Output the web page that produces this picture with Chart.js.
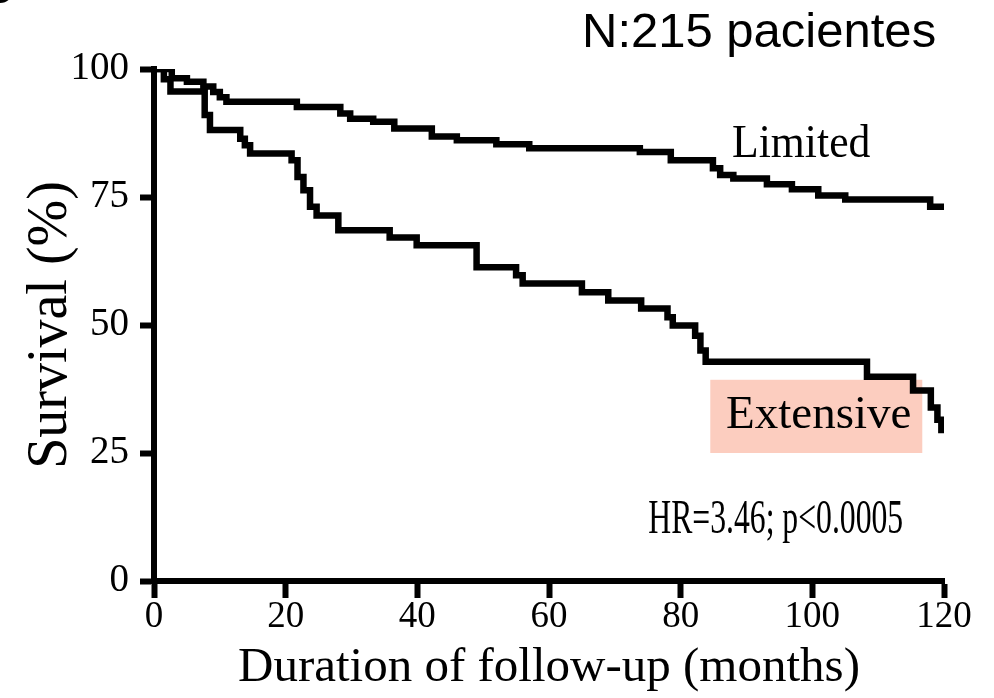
<!DOCTYPE html>
<html>
<head>
<meta charset="utf-8">
<script src="https://cdn.jsdelivr.net/npm/chart.js@4.4.1/dist/chart.umd.min.js"></script>
<style>
  html, body { margin: 0; padding: 0; background: #fff; }
  canvas { display: block; }
</style>
</head>
<body>
<canvas id="kmChart" width="994" height="698"></canvas>
<script>
// Kaplan-Meier curves (months, survival %)
// each point = time of the drop and the survival just after it
const xTicks = [0, 20, 40, 60, 80, 100, 120]
const yTicks = [0, 25, 50, 75, 100]

const limitedMonths = [0, 2.7, 5, 7.5, 9, 10, 11, 21.7, 28.3, 29.8, 33.3, 36.5, 42.2, 46, 52, 57, 73.8, 78.5, 84.9, 86, 88, 93.1, 96.9, 100.9, 105, 117.9, 120]
const limitedSurvival = [100, 98.2, 97.5, 96.6, 95.5, 94.5, 93.6, 92.6, 91.3, 90.3, 89.7, 88.4, 86.8, 86.1, 85.3, 84.5, 83.8, 82.2, 80.6, 79.3, 78.6, 77.5, 76.5, 75.3, 74.5, 73.1, 73.1]

const extensiveMonths = [0, 1.5, 2.5, 7.7, 8.5, 13.1, 13.8, 14.6, 20.9, 21.8, 22.7, 23.7, 24.7, 28, 35.8, 39.9, 49, 55, 56, 65, 69, 74, 78, 78.8, 82.2, 83, 83.8, 108.3, 115.3, 118, 119, 119.6, 120]
const extensiveSurvival = [100, 98, 95.6, 91, 88.1, 86.4, 85.1, 83.5, 82.2, 78.9, 76.3, 73.1, 71.4, 68.5, 67.1, 65.6, 61.3, 59.7, 58.1, 56.4, 54.8, 53.2, 51.5, 49.9, 47.9, 45, 42.8, 39.9, 37.2, 33.9, 31.5, 29.5, 29.5]

const toPoints = (xs, ys) => xs.map((x, i) => ({ x: x, y: ys[i] }))

const serif = "'Liberation Serif', 'Times New Roman', serif"
const sans = "'Liberation Sans', Arial, sans-serif"

// draw text squeezed horizontally (the figure's labels are condensed)
function squeezedText(ctx, text, x, y, sx, align) {
  ctx.save()
  ctx.translate(x, y)
  ctx.scale(sx, 1)
  ctx.textAlign = align
  ctx.fillText(text, 0, 0)
  ctx.restore()
}

// labels drawn on top of the plot
const annotations = {
  id: "annotations",
  beforeDatasetsDraw(chart) {
    const { ctx, scales } = chart
    const x = scales.x, y = scales.y
    // salmon box behind "Extensive"
    const left = x.getPixelForValue(84.5)
    const right = x.getPixelForValue(116.7)
    const top = y.getPixelForValue(39.3)
    const bottom = y.getPixelForValue(25)
    ctx.save()
    ctx.fillStyle = "#fccdbf"
    ctx.fillRect(left, top, right - left, bottom - top)
    ctx.restore()
  },
  afterDraw(chart) {
    const { ctx, scales } = chart
    const x = scales.x, y = scales.y
    ctx.save()
    ctx.fillStyle = "#000"
    ctx.textBaseline = "alphabetic"

    ctx.font = "47px " + serif
    squeezedText(ctx, "Limited", x.getPixelForValue(87.8), y.getPixelForValue(82.8), 0.93, "left")
    squeezedText(ctx, "Extensive", x.getPixelForValue(86.9), y.getPixelForValue(29.9), 1, "left")
    ctx.font = "48px " + serif
    squeezedText(ctx, "HR=3.46; p<0.0005", x.getPixelForValue(113.8), y.getPixelForValue(9.4), 0.66, "right")

    ctx.font = "49px " + sans
    ctx.textAlign = "left"
    ctx.fillText("N:215 pacientes", 582, 47)
    // leftover of a cut-off panel letter in the corner
    ctx.fillText("g", -13, -7)
    ctx.restore()
  },
}

const ctx = document.getElementById("kmChart")
new Chart(ctx, {
  type: "line",
  data: {
    datasets: [
      {
        label: "Limited",
        data: toPoints(limitedMonths, limitedSurvival),
        borderColor: "#000",
        borderWidth: 6.5,
        stepped: "before",
        pointRadius: 0,
        fill: false,
      },
      {
        label: "Extensive",
        data: toPoints(extensiveMonths, extensiveSurvival),
        borderColor: "#000",
        borderWidth: 6.5,
        stepped: "before",
        pointRadius: 0,
        fill: false,
      },
    ],
  },
  options: {
    responsive: false,
    animation: false,
    layout: {
      padding: { top: 69, right: 50, left: 0, bottom: 0 },
    },
    plugins: {
      legend: { display: false },
      tooltip: { enabled: false },
    },
    scales: {
      x: {
        type: "linear",
        min: 0,
        max: 120,
        afterBuildTicks: (axis) => {
          axis.ticks = xTicks.map((v) => ({ value: v }))
        },
        afterFit: (axis) => {
          axis.height = 117
        },
        border: { display: true, color: "#000", width: 6 },
        grid: {
          drawOnChartArea: false,
          drawTicks: true,
          tickLength: 17,
          tickWidth: 6,
          tickColor: "#000",
        },
        ticks: {
          color: "#000",
          padding: -3,
          maxRotation: 0,
          font: { family: serif, size: 37 },
        },
        title: {
          display: true,
          text: "Duration of follow-up (months)",
          color: "#000",
          font: { family: serif, size: 49 },
          padding: { top: 0, bottom: 0 },
        },
      },
      y: {
        min: 0,
        max: 100,
        afterBuildTicks: (axis) => {
          axis.ticks = yTicks.map((v) => ({ value: v }))
        },
        afterFit: (axis) => {
          axis.width = 154
        },
        border: { display: true, color: "#000", width: 6 },
        grid: {
          drawOnChartArea: false,
          drawTicks: true,
          tickLength: 14,
          tickWidth: 6,
          tickColor: "#000",
        },
        ticks: {
          color: "#000",
          padding: 11,
          font: { family: serif, size: 39 },
        },
        title: {
          display: true,
          text: "Survival (%)",
          color: "#000",
          font: { family: serif, size: 56 },
          padding: { top: 18, bottom: 0 },
        },
      },
    },
  },
  plugins: [annotations],
})
</script>
</body>
</html>
